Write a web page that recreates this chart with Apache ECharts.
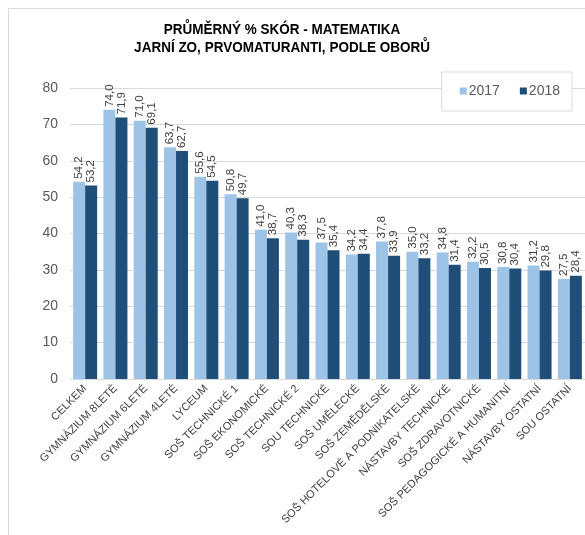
<!DOCTYPE html>
<html><head><meta charset="utf-8">
<script src="https://cdn.jsdelivr.net/npm/echarts@6/dist/echarts.min.js"></script>
<style>html,body{margin:0;padding:0;background:#fff;}#c{width:585px;height:535px;}</style>
</head><body><div id="c"></div>
<script>
const categories = ['CELKEM','GYMNÁZIUM 8LETÉ','GYMNÁZIUM 6LETÉ','GYMNÁZIUM 4LETÉ','LYCEUM','SOŠ TECHNICKÉ 1','SOŠ EKONOMICKÉ','SOŠ TECHNICKÉ 2','SOU TECHNICKÉ','SOŠ UMĚLECKÉ','SOŠ ZEMĚDĚLSKÉ','SOŠ HOTELOVÉ A PODNIKATELSKÉ','NÁSTAVBY TECHNICKÉ','SOŠ ZDRAVOTNICKÉ','SOŠ PEDAGOGICKÉ A HUMANITNÍ','NÁSTAVBY OSTATNÍ','SOU OSTATNÍ'];
const values2017 = [54.2,74.0,71.0,63.7,55.6,50.8,41.0,40.3,37.5,34.2,37.8,35.0,34.8,32.2,30.8,31.2,27.5];
const values2018 = [53.2,71.9,69.1,62.7,54.5,49.7,38.7,38.3,35.4,34.4,33.9,33.2,31.4,30.5,30.4,29.8,28.4];
const seriesNames = ['2017','2018'];
const titleLines = ['PRŮMĚRNÝ % SKÓR - MATEMATIKA','JARNÍ ZO, PRVOMATURANTI, PODLE OBORŮ'];

const chart = echarts.init(document.getElementById('c'), null, {renderer:'canvas'});
const fmt = p => p.value.toFixed(1).replace('.', ',');
const labelCfg = {
  show: true, position: 'top', rotate: 90, align: 'left', verticalAlign: 'middle',
  distance: 3, formatter: fmt, color: '#404040', fontSize: 11.5, fontFamily: 'Liberation Sans'
};
const titleStyle = {fontFamily:'Liberation Sans', fontWeight:'bold', fontSize:15, fill:'#000', textAlign:'center', textVerticalAlign:'top'};
chart.setOption({
  animation: false,
  backgroundColor: '#fff',
  graphic: [
    {type:'rect', shape:{x:8.5,y:8.5,width:600,height:600}, style:{fill:'none', stroke:'#d9d9d9', lineWidth:1}, z:-1},
    {type:'text', x:282, y:22, scaleX:0.9, style:Object.assign({text:titleLines[0]}, titleStyle)},
    {type:'text', x:282, y:40, scaleX:0.9, style:Object.assign({text:titleLines[1]}, titleStyle)}
  ],
  legend: {
    data: seriesNames, right: 13, top: 72, orient: 'horizontal',
    padding: [12, 12, 13, 18], itemGap: 20,
    borderColor: '#d9d9d9', borderWidth: 1, backgroundColor: '#fff',
    itemWidth: 7, itemHeight: 7, icon: 'rect',
    textStyle: {fontFamily:'Liberation Sans', fontSize: 14, color:'#595959', padding:[0,0,0,-3]}
  },
  grid: {left: 70, right: 0, top: 88, bottom: 156},
  xAxis: {
    type: 'category', data: categories,
    axisLine: {lineStyle:{color:'#d9d9d9'}}, axisTick: {show:false},
    axisLabel: {rotate: 45, interval: 0, fontFamily:'Liberation Sans', fontSize: 11, color:'#404040', margin: 8}
  },
  yAxis: {
    type: 'value', min: 0, max: 80, interval: 10,
    axisLine: {show:false}, axisTick: {show:false},
    splitLine: {lineStyle:{color:'#d9d9d9'}},
    axisLabel: {fontFamily:'Liberation Sans', fontSize: 14, color:'#595959', margin: 12}
  },
  series: [
    {name: seriesNames[0], type:'bar', data: values2017, barWidth: 12, barGap: '0%', itemStyle:{color:'#9dc3e6'}, label: labelCfg},
    {name: seriesNames[1], type:'bar', data: values2018, barWidth: 12, barGap: '0%', itemStyle:{color:'#1f4e79'}, label: labelCfg}
  ]
});
</script></body></html>
